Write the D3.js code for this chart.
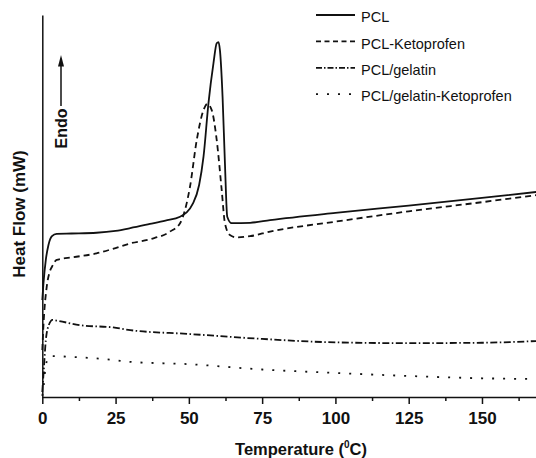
<!DOCTYPE html>
<html>
<head>
<meta charset="utf-8">
<script src="https://cdn.jsdelivr.net/npm/d3@7"></script>
<style>
    body { margin: 0; background: #fff; }
    svg { display: block; font-family: "Liberation Sans", Arial, sans-serif; }
    .legendText { font-size: 14.5px; fill: #111; }
    .axisTitle { font-size: 16.5px; font-weight: bold; fill: #111; }
</style>
</head>
<body>
<svg id="chart" width="536" height="458"></svg>
<script>
// temperature (C) and heat flow (arbitrary units)
const pclT = [0, 0.4, 1.2, 2.1, 3.3, 4.9, 10, 18.5, 25, 30, 36.7, 42, 47, 51.5, 53.5, 55, 56.7, 58.4, 59.5, 60.1, 60.6, 61.5, 62.3, 63.1, 64.6, 70.9, 77.7, 100, 125, 150, 170]
const pclV = [25.4, 29.8, 35.9, 39.8, 42.1, 42.7, 42.8, 43.0, 43.5, 44.2, 45.3, 46.2, 47.2, 50.8, 55.5, 62.9, 77.0, 87.4, 92.6, 92.9, 90.8, 78.6, 61.3, 47.2, 45.5, 45.6, 46.3, 48.2, 50.1, 52.1, 53.8]

const pclKetoT = [0, 0.5, 1.5, 2.5, 3.3, 4.9, 10.6, 18.5, 25, 30, 36.7, 43.6, 47, 50.4, 52.7, 55, 56.3, 57.8, 59.5, 61.2, 62.3, 64, 66.3, 70.9, 77.7, 100, 125, 150, 170]
const pclKetoV = [12.3, 20.2, 28.8, 32.7, 34.1, 35.9, 36.6, 37.6, 39.0, 40.2, 41.3, 43.3, 45.5, 55.1, 67.3, 75.1, 76.7, 75.1, 67.3, 54.2, 45.5, 42.4, 41.8, 42.1, 43.3, 45.9, 48.6, 51.0, 53.0]

const gelT = [0, 0.5, 1.2, 2.2, 3.5, 5, 12.9, 24.2, 30, 50, 75, 100, 125, 150, 170]
const gelV = [1.3, 7.1, 14.9, 18.8, 20.2, 20.0, 18.8, 18.2, 17.5, 16.5, 15.2, 14.3, 14.1, 14.2, 14.7]

const gelKetoT = [0, 0.5, 1.2, 2.6, 10, 24.2, 30, 50, 75, 100, 125, 150, 170]
const gelKetoV = [0.3, 3.1, 8.4, 10.7, 10.5, 9.7, 9.2, 8.6, 7.2, 6.3, 5.5, 4.9, 4.7]

const seriesNames = ['PCL', 'PCL-Ketoprofen', 'PCL/gelatin', 'PCL/gelatin-Ketoprofen']
const majorTicks = [0, 25, 50, 75, 100, 125, 150]
const minorTicks = [12.5, 37.5, 62.5, 87.5, 112.5, 137.5, 162.5]

const dashes = ['none', '6,4', '7,2.5,1.5,2.5', '2,9']
const legendDashes = ['none', '5,3.5', '6,2,1.5,2', '2,9']

const svg = d3.select('#chart')

const x = d3.scaleLinear().domain([0, 170]).range([42.3, 540.6])
const y = d3.scaleLinear().domain([0, 100]).range([397, 15])

const series = [
    [pclT, pclV],
    [pclKetoT, pclKetoV],
    [gelT, gelV],
    [gelKetoT, gelKetoV]
].map(([ts, vs], i) => ({ name: seriesNames[i], dash: dashes[i], pts: ts.map((t, j) => [t, vs[j]]) }))

function drawAxes(root) {
    let xAxisG = root.append('g')
        .attr('transform', 'translate(0,' + y(0) + ')')

    xAxisG.append('g')
        .call(d3.axisBottom(x).tickValues(minorTicks).tickSize(4).tickFormat(''))
        .call(g => g.select('.domain').remove())

    xAxisG.append('g')
        .call(d3.axisBottom(x).tickValues(majorTicks).tickSize(7).tickSizeOuter(0).tickPadding(8))
        .call(g => g.selectAll('text')
            .style('font-family', '"Liberation Sans", Arial, sans-serif')
            .style('font-size', '17px')
            .style('font-weight', 'bold')
            .attr('fill', '#111'))

    xAxisG.selectAll('line, path')
        .attr('stroke', '#111')
        .attr('stroke-width', 1.5)

    root.append('g')
        .attr('transform', 'translate(' + x(0) + ',0)')
        .call(d3.axisLeft(y).tickValues([]).tickSizeOuter(0))
        .select('.domain')
        .attr('stroke', '#111')
        .attr('stroke-width', 1.5)
}

function drawTitles(root) {
    root.append('text')
        .classed('axisTitle', true)
        .attr('transform', 'translate(19.5,214) rotate(-90)')
        .attr('dy', '0.35em')
        .style('text-anchor', 'middle')
        .style('font-size', '17px')
        .text('Heat Flow (mW)')

    let xTitle = root.append('text')
        .classed('axisTitle', true)
        .attr('x', 301)
        .attr('y', 455)
        .style('text-anchor', 'middle')
    xTitle.append('tspan').text('Temperature (')
    xTitle.append('tspan').attr('dy', -7).style('font-size', '10px').text('0')
    xTitle.append('tspan').attr('dy', 7).text('C)')

    // endo arrow
    root.append('text')
        .classed('axisTitle', true)
        .attr('transform', 'translate(61,128.5) rotate(-90)')
        .attr('dy', '0.35em')
        .style('font-size', '16px')
        .style('text-anchor', 'middle')
        .text('Endo')

    root.append('line')
        .attr('x1', 61).attr('x2', 61)
        .attr('y1', 106).attr('y2', 64)
        .attr('stroke', '#111')
        .attr('stroke-width', 1.5)

    root.append('path')
        .attr('d', 'M61,55 L58,66.5 L64,66.5 Z')
        .attr('fill', '#111')
}

function drawCurves(root) {
    let line = d3.line()
        .x(d => x(d[0]))
        .y(d => y(d[1]))
        .curve(d3.curveMonotoneX)

    root.append('g')
        .selectAll(null)
        .data(series)
        .enter()
        .append('path')
        .attr('d', d => line(d.pts))
        .attr('fill', 'none')
        .attr('stroke', '#111')
        .attr('stroke-width', 1.8)
        .attr('stroke-dasharray', d => d.dash)
}

function drawLegend(root) {
    let legendsG = root.append('g')
        .attr('transform', 'translate(316,15)')
        .selectAll(null)
        .data(seriesNames)
        .enter()
        .append('g')
        .attr('transform', (d, i) => 'translate(0,' + i * 26.4 + ')')

    legendsG.append('line')
        .attr('x1', 0)
        .attr('x2', 39)
        .attr('stroke', '#111')
        .attr('stroke-width', 1.8)
        .attr('stroke-dasharray', (d, i) => legendDashes[i])

    legendsG.append('text')
        .classed('legendText', true)
        .attr('x', 45)
        .attr('y', 2.2)
        .attr('dy', '0.35em')
        .text(d => d)
}

drawCurves(svg)
drawAxes(svg)
drawTitles(svg)
drawLegend(svg)
</script>
</body>
</html>
